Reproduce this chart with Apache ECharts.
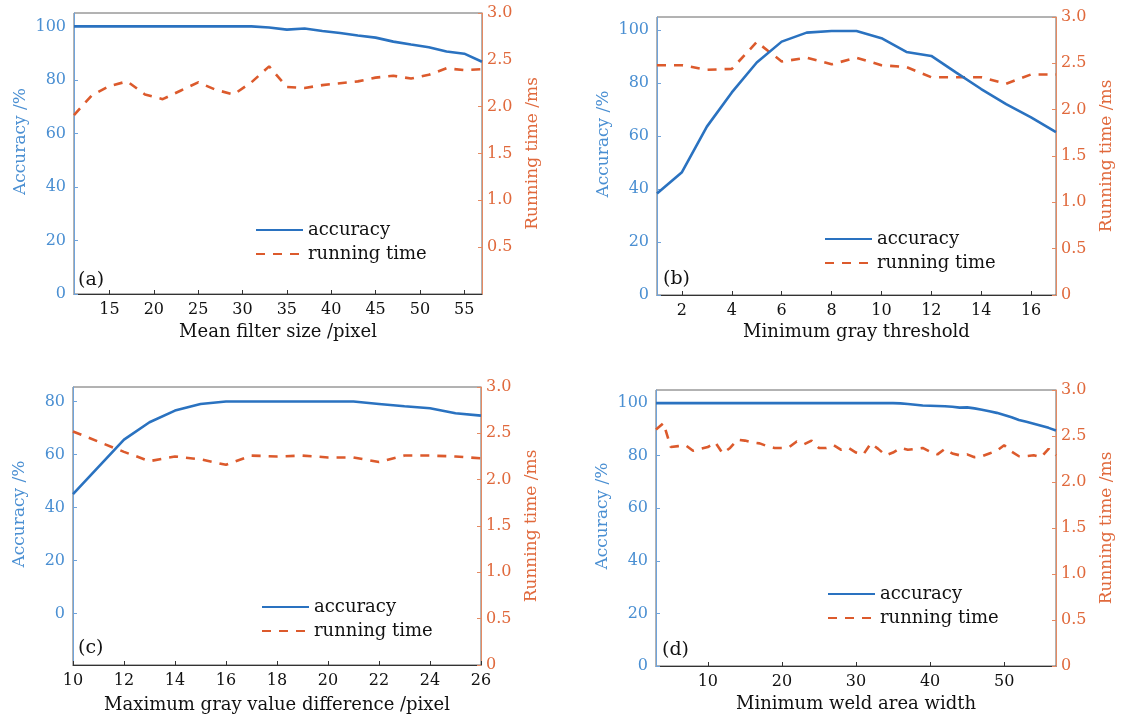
<!DOCTYPE html>
<html lang="en">

<head>
    <meta charset="utf-8">
    <title>accuracy / running time</title>
    <style>
        body {
            margin: 0;
            background-color: #fff;
        }
    </style>
</head>

<body>
    <div id="main" style="width: 1121px;height:723px;"></div>
    <script src="https://cdn.jsdelivr.net/npm/echarts@6.0.0/dist/echarts.min.js"></script>

    <script>
        var myChart = echarts.init(document.getElementById('main'));

        // (a) mean filter size
        var xA = [11, 13, 15, 17, 19, 21, 23, 25, 27, 29, 31, 33, 35, 37, 39, 41, 43, 45, 47, 49, 51, 53, 55, 57];
        var accA = [100, 100, 100, 100, 100, 100, 100, 100, 100, 100, 100, 99.6, 98.8, 99.2, 98.3, 97.5, 96.6, 95.8, 94.3, 93.2, 92.2, 90.6, 89.8, 86.8];
        var timeA = [1.91, 2.12, 2.22, 2.27, 2.13, 2.08, 2.17, 2.26, 2.18, 2.13, 2.26, 2.43, 2.21, 2.2, 2.23, 2.25, 2.27, 2.31, 2.33, 2.3, 2.34, 2.41, 2.39, 2.4];
        var xTicksA = [15, 20, 25, 30, 35, 40, 45, 50, 55];

        // (b) minimum gray threshold
        var xB = [1, 2, 3, 4, 5, 6, 7, 8, 9, 10, 11, 12, 13, 14, 15, 16, 17];
        var accB = [38.3, 46.4, 63.6, 76.5, 87.8, 95.7, 99.1, 99.7, 99.7, 97, 91.8, 90.3, 84, 77.8, 72.1, 67.1, 61.5];
        var timeB = [2.48, 2.48, 2.43, 2.44, 2.73, 2.52, 2.56, 2.49, 2.56, 2.48, 2.46, 2.35, 2.35, 2.35, 2.28, 2.38, 2.38];
        var xTicksB = [2, 4, 6, 8, 10, 12, 14, 16];

        // (c) maximum gray value difference
        var xC = [10, 11, 12, 13, 14, 15, 16, 17, 18, 19, 20, 21, 22, 23, 24, 25, 26];
        var accC = [45, 55.3, 65.6, 72.2, 76.6, 79.1, 80, 80, 80, 80, 80, 80, 79.1, 78.2, 77.5, 75.6, 74.7];
        var timeC = [2.52, 2.41, 2.30, 2.2, 2.25, 2.22, 2.16, 2.26, 2.25, 2.26, 2.24, 2.24, 2.19, 2.26, 2.26, 2.25, 2.23];
        var xTicksC = [10, 12, 14, 16, 18, 20, 22, 24, 26];

        // (d) minimum weld area width
        var xD = [3, 4, 5, 6, 7, 8, 9, 10, 11, 12, 13, 14, 15, 16, 17, 18, 19, 20, 21, 22, 23, 24, 25, 26, 27, 28, 29, 30,
            31, 32, 33, 34, 35, 36, 37, 38, 39, 40, 41, 42, 43, 44, 45, 46, 47, 48, 49, 50, 51, 52, 53, 54, 55, 56, 57];
        var accD = [100, 100, 100, 100, 100, 100, 100, 100, 100, 100, 100, 100, 100, 100, 100, 100, 100, 100, 100, 100, 100,
            100, 100, 100, 100, 100, 100, 100, 100, 100, 100, 100, 100,
            99.9, 99.7, 99.4, 99.1, 99, 98.9, 98.8, 98.6, 98.3, 98.4, 98.0, 97.5, 96.9, 96.3, 95.5, 94.6, 93.6, 92.9, 92.2, 91.4, 90.6, 89.6];
        var timeD = [2.57, 2.64, 2.38, 2.39, 2.40, 2.34, 2.36, 2.38, 2.43, 2.31, 2.37, 2.46, 2.45, 2.43, 2.42, 2.39, 2.37, 2.37,
            2.38, 2.44, 2.41, 2.45, 2.37, 2.37, 2.40, 2.35, 2.37, 2.32, 2.30, 2.42, 2.36, 2.29, 2.32, 2.37, 2.35, 2.36, 2.37,
            2.33, 2.30, 2.36, 2.31, 2.29, 2.30, 2.27, 2.28, 2.31, 2.34, 2.40, 2.33, 2.28, 2.28, 2.29, 2.27, 2.36, 2.29];
        var xTicksD = [10, 20, 30, 40, 50];

        var accTicks = [0, 20, 40, 60, 80, 100];
        var accTicksC = [0, 20, 40, 60, 80];
        var timeTicks = [0, 0.5, 1.0, 1.5, 2.0, 2.5, 3.0];
        var timeTicksA = [0.5, 1.0, 1.5, 2.0, 2.5, 3.0];

        var serif = 'DejaVu Serif';
        var blue = '#2a72c0';
        var orange = '#dc5a2c';

        function pairs(xs, ys) {
            return xs.map(function (x, i) {
                return [x, ys[i]];
            });
        }

        var panels = [{
                tag: '(a)', xName: 'Mean filter size /pixel', xs: xA, acc: accA, time: timeA,
                xMin: 11, xMax: 57, xTicks: xTicksA, yMin: 0, yMax: 105, yTicks: accTicks, tTicks: timeTicksA,
                grid: { left: 74, right: 639, top: 13, bottom: 429 },
                legend: { left: 255, top: 221 }, label: { left: 78, top: 271 }, xGap: 29
            },
            {
                tag: '(b)', xName: 'Minimum gray threshold', xs: xB, acc: accB, time: timeB,
                xMin: 1, xMax: 17, xTicks: xTicksB, yMin: 0, yMax: 105, yTicks: accTicks, tTicks: timeTicks,
                grid: { left: 657, right: 65, top: 17, bottom: 428 },
                legend: { left: 824, top: 230 }, label: { left: 663, top: 270 }, xGap: 28
            },
            {
                tag: '(c)', xName: 'Maximum gray value difference /pixel', xs: xC, acc: accC, time: timeC,
                xMin: 10, xMax: 26, xTicks: xTicksC, yMin: -19.5, yMax: 85.5, yTicks: accTicksC, tTicks: timeTicks,
                grid: { left: 73, right: 640, top: 387, bottom: 58 },
                legend: { left: 261, top: 598 }, label: { left: 78, top: 639 }, xGap: 31
            },
            {
                tag: '(d)', xName: 'Minimum weld area width', xs: xD, acc: accD, time: timeD,
                xMin: 3, xMax: 57, xTicks: xTicksD, yMin: 0, yMax: 105, yTicks: accTicks, tTicks: timeTicks,
                grid: { left: 656, right: 65, top: 390, bottom: 57 },
                legend: { left: 827, top: 585 }, label: { left: 662, top: 641 }, xGap: 29
            }
        ];

        var option = {
            backgroundColor: '#fff',
            animation: false,
            textStyle: { fontFamily: serif },
            grid: [],
            xAxis: [],
            yAxis: [],
            series: [],
            legend: [],
            title: []
        };

        panels.forEach(function (p, i) {
            option.grid.push({
                left: p.grid.left, right: p.grid.right, top: p.grid.top, bottom: p.grid.bottom,
                show: true, borderColor: '#666', borderWidth: 1, backgroundColor: 'transparent'
            });
            option.xAxis.push({
                type: 'value', gridIndex: i, min: p.xMin, max: p.xMax,
                name: p.xName, nameLocation: 'middle', nameGap: p.xGap,
                nameTextStyle: { color: '#111', fontSize: 18, fontFamily: serif },
                splitLine: { show: false },
                axisLine: { onZero: false, lineStyle: { color: '#333', width: 1 } },
                axisTick: { inside: true, length: 4, customValues: p.xTicks, lineStyle: { color: '#333' } },
                axisLabel: { customValues: p.xTicks, color: '#111', fontSize: 16, margin: 8, fontFamily: serif }
            });
            option.yAxis.push({
                type: 'value', gridIndex: i, min: p.yMin, max: p.yMax, position: 'left',
                name: 'Accuracy /%', nameLocation: 'middle', nameGap: 45,
                nameTextStyle: { color: '#4a8fd2', fontSize: 17, fontFamily: serif, padding: [0, 0, 0, 24] },
                splitLine: { show: false },
                axisLine: { show: true, onZero: false, lineStyle: { color: '#6fa3db', width: 1 } },
                axisTick: { inside: true, length: 4, customValues: p.yTicks, lineStyle: { color: '#6fa3db' } },
                axisLabel: { customValues: p.yTicks, color: '#4a8fd2', fontSize: 16, margin: 8, fontFamily: serif }
            });
            option.yAxis.push({
                type: 'value', gridIndex: i, min: 0, max: 3, position: 'right',
                name: 'Running time /ms', nameLocation: 'middle', nameGap: 42,
                nameTextStyle: { color: '#e0693c', fontSize: 17, fontFamily: serif },
                splitLine: { show: false },
                axisLine: { show: true, onZero: false, lineStyle: { color: '#e58a62', width: 1 } },
                axisTick: { inside: true, length: 4, customValues: p.tTicks, lineStyle: { color: '#e58a62' } },
                axisLabel: {
                    customValues: p.tTicks, color: '#e0693c', fontSize: 16, margin: 5, fontFamily: serif,
                    formatter: function (v) {
                        return v === 0 ? '0' : v.toFixed(1);
                    }
                }
            });
            option.series.push({
                name: 'accuracy', type: 'line', xAxisIndex: i, yAxisIndex: i * 2,
                data: pairs(p.xs, p.acc), symbol: 'none', z: 3,
                lineStyle: { color: blue, width: 2.6 }, itemStyle: { color: blue }
            });
            option.series.push({
                name: 'running time', type: 'line', xAxisIndex: i, yAxisIndex: i * 2 + 1,
                data: pairs(p.xs, p.time), symbol: 'none', z: 2,
                lineStyle: { color: orange, width: 2.6, type: [9, 8] }, itemStyle: { color: orange }
            });
            option.legend.push({
                left: p.legend.left, top: p.legend.top, orient: 'vertical', padding: 0,
                itemWidth: 47, itemHeight: 14, itemGap: 6, selectedMode: false,
                itemStyle: { opacity: 0 },
                data: ['accuracy', 'running time'],
                textStyle: { color: '#111', fontSize: 18, fontFamily: serif }
            });
            option.title.push({
                text: p.tag, left: p.label.left, top: p.label.top, padding: 0,
                textStyle: { color: '#111', fontSize: 19, fontWeight: 'normal', fontFamily: serif }
            });
        });

        myChart.setOption(option);
    </script>


</body>

</html>
